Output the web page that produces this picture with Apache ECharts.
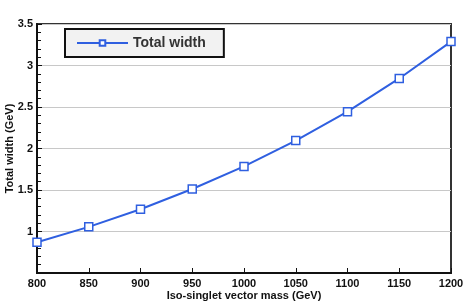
<!DOCTYPE html>
<html><head><meta charset="utf-8">
<script src="https://cdn.jsdelivr.net/npm/echarts@6/dist/echarts.min.js"></script>
<style>html,body{margin:0;padding:0;background:#fff}#c{width:463px;height:304px}</style>
</head><body><div id="c"></div>
<script>
var masses = [800, 850, 900, 950, 1000, 1050, 1100, 1150, 1200];
var totalWidth = [0.87, 1.056, 1.268, 1.512, 1.784, 2.096, 2.444, 2.844, 3.288];
var seriesName = 'Total width';
var xName = 'Iso-singlet vector mass (GeV)';
var yName = 'Total width (GeV)';

var chart = echarts.init(document.getElementById('c'));
var font = 'Liberation Sans, Arial, sans-serif';
chart.setOption({
  animation: false,
  grid: {left: 37, right: 12, top: 24, bottom: 31, containLabel: false, outerBoundsMode: 'none',
         show: true, borderColor: '#333', borderWidth: 2, backgroundColor: 'transparent'},
  legend: {
    show: true, left: 65, top: 29,
    padding: [7, 18, 7, 11],
    backgroundColor: '#f2f2f2', borderColor: '#111', borderWidth: 2,
    itemWidth: 51, itemHeight: 7, itemGap: 6,
    textStyle: {fontFamily: font, fontWeight: 'bold', fontSize: 14, color: '#333'},
    data: [seriesName]
  },
  xAxis: {
    type: 'value', min: 800, max: 1200, interval: 50,
    name: xName, nameLocation: 'middle', nameGap: 17, nameMoveOverlap: false,
    nameTextStyle: {fontFamily: font, fontWeight: 'bold', fontSize: 11, color: '#111'},
    axisLine: {show: true, lineStyle: {color: '#111', width: 2}},
    axisTick: {show: true, inside: true, length: 5, lineStyle: {color: '#111'}},
    axisLabel: {fontFamily: font, fontWeight: 'bold', fontSize: 11, color: '#111', margin: 5,
                formatter: function (v) { return String(v); }},
    splitLine: {show: false}
  },
  yAxis: {
    type: 'value', min: 0.5, max: 3.5, interval: 0.5,
    name: yName, nameLocation: 'middle', nameGap: 22, nameMoveOverlap: false,
    nameTextStyle: {fontFamily: font, fontWeight: 'bold', fontSize: 11, color: '#111'},
    axisLine: {show: true, lineStyle: {color: '#111', width: 2}},
    axisTick: {show: true, inside: true, length: 5, lineStyle: {color: '#111'}},
    minorTick: {show: true, splitNumber: 5, length: 4, lineStyle: {color: '#111', width: 1}},
    axisLabel: {fontFamily: font, fontWeight: 'bold', fontSize: 11, color: '#111', margin: 4, showMinLabel: false,
                formatter: function (v) { return String(v); }},
    splitLine: {show: true, lineStyle: {color: '#c8c8c8', width: 1}}
  },
  series: [{
    name: seriesName, type: 'line',
    data: masses.map(function (m, i) { return [m, totalWidth[i]]; }),
    symbol: 'rect', symbolSize: 8, showAllSymbol: true,
    lineStyle: {color: '#2f5fe0', width: 2},
    itemStyle: {color: '#ffffff', borderColor: '#2f5fe0', borderWidth: 1.5},
    clip: false
  }]
});
</script></body></html>
